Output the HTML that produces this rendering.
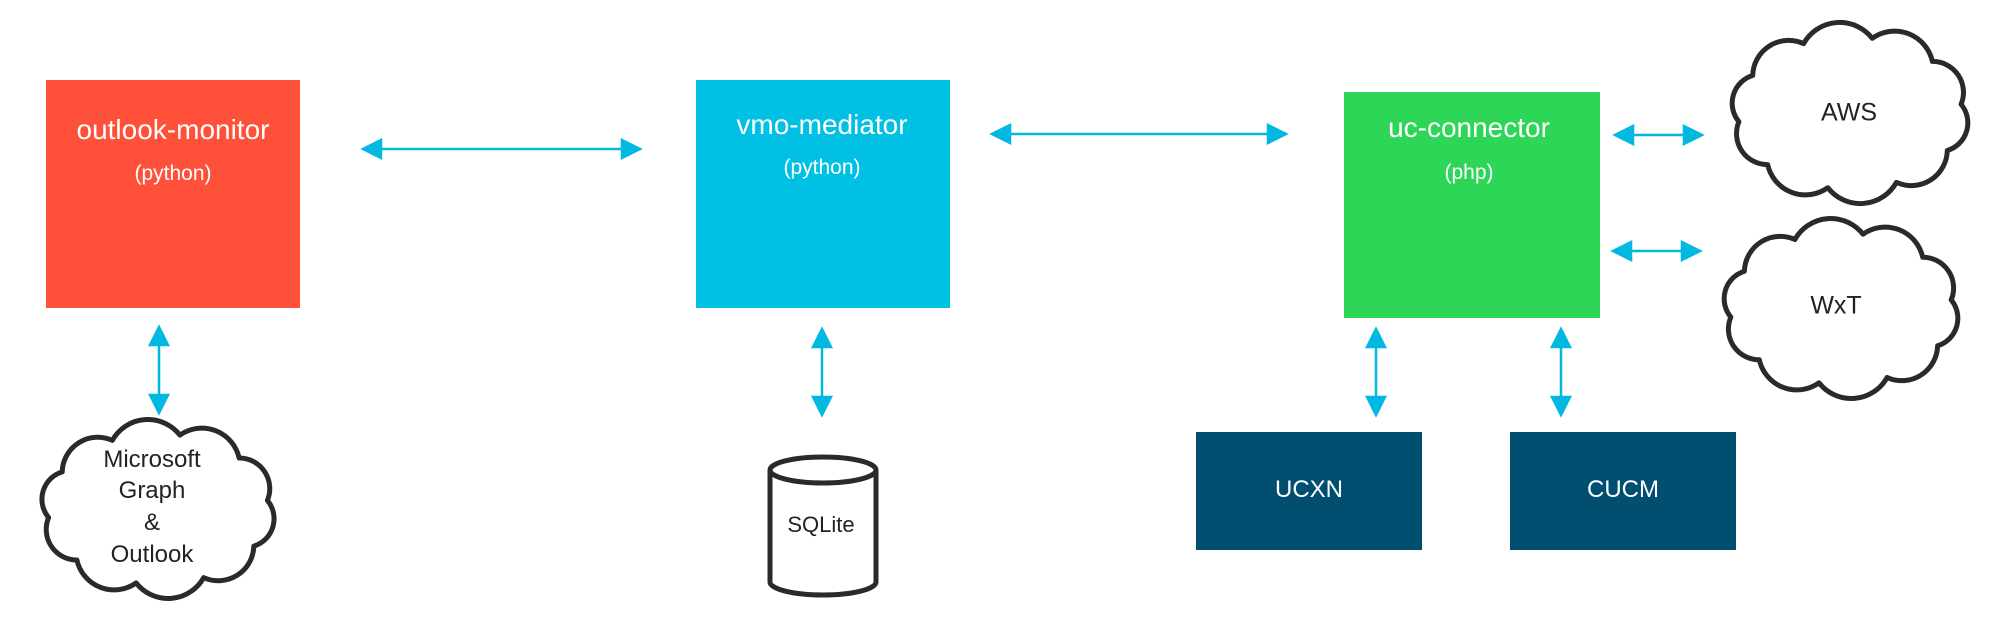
<!DOCTYPE html>
<html><head><meta charset="utf-8"><style>
html,body{margin:0;padding:0;background:#fff;}
body{width:2008px;height:620px;position:relative;overflow:hidden;font-family:"Liberation Sans",sans-serif;}
.b{position:absolute;color:#fff;}
.t{position:absolute;white-space:nowrap;transform:translate(-50%,-50%);}
svg{position:absolute;left:0;top:0;}
</style></head><body>
<div class="b" style="left:46px;top:80px;width:254px;height:228px;background:#ff503a"></div>
<div class="b" style="left:696px;top:80px;width:254px;height:228px;background:#00c0e3"></div>
<div class="b" style="left:1344px;top:92px;width:256px;height:226px;background:#2ed658"></div>
<div class="b" style="left:1196px;top:432px;width:226px;height:118px;background:#004f71"></div>
<div class="b" style="left:1510px;top:432px;width:226px;height:118px;background:#004f71"></div>

<svg width="2008" height="620" viewBox="0 0 2008 620" id="s">
<g stroke="#00b8e0" stroke-width="2.5" fill="#00b8e0">
<line x1="370" y1="149" x2="632" y2="149"/><polygon points="363,149 381,140 381,158"/><polygon points="640,149 622,140 622,158"/>
<line x1="999" y1="134" x2="1278" y2="134"/><polygon points="992,134 1010,125 1010,143"/><polygon points="1286,134 1268,125 1268,143"/>
<line x1="1622" y1="135" x2="1695" y2="135"/><polygon points="1615,135 1633,126 1633,144"/><polygon points="1702,135 1684,126 1684,144"/>
<line x1="1620" y1="251" x2="1693" y2="251"/><polygon points="1613,251 1631,242 1631,260"/><polygon points="1700,251 1682,242 1682,260"/>
<line x1="159" y1="334" x2="159" y2="406"/><polygon points="159,327 150,345 168,345"/><polygon points="159,413 150,395 168,395"/>
<line x1="822" y1="336" x2="822" y2="408"/><polygon points="822,329 813,347 831,347"/><polygon points="822,415 813,397 831,397"/>
<line x1="1376" y1="336" x2="1376" y2="408"/><polygon points="1376,329 1367,347 1385,347"/><polygon points="1376,415 1367,397 1385,397"/>
<line x1="1561" y1="336" x2="1561" y2="408"/><polygon points="1561,329 1552,347 1570,347"/><polygon points="1561,415 1552,397 1570,397"/>
</g>
<g fill="#fff" stroke="#2a2a2a" stroke-width="5">
<path d="M770,470 L770,582 A53,13 0 0 0 876,582 L876,470"/>
<ellipse cx="823" cy="470" rx="53" ry="13"/>
</g>
<g id="clouds" fill="#fff" stroke="#2a2a2a" stroke-width="5" stroke-linejoin="round"></g>
</svg>
<script>
function cloud(x0,y0,x1,y1,n){
 var cx=(x0+x1)/2,cy=(y0+y1)/2,rx=(x1-x0)/2*0.86,ry=(y1-y0)/2*0.82;
 var pts=[];for(var i=0;i<n;i++){var a=-Math.PI/2+i*2*Math.PI/n+0.2;pts.push([cx+rx*Math.cos(a),cy+ry*Math.sin(a)]);}
 var d="M"+pts[0][0].toFixed(1)+","+pts[0][1].toFixed(1);
 for(var i=0;i<n;i++){var p=pts[i],q=pts[(i+1)%n];var c=Math.hypot(q[0]-p[0],q[1]-p[1]);var r=c*0.6;
  d+=" A"+r.toFixed(1)+","+r.toFixed(1)+" 0 0 1 "+q[0].toFixed(1)+","+q[1].toFixed(1);}
 var el=document.createElementNS("http://www.w3.org/2000/svg","path");el.setAttribute("d",d+"Z");
 document.getElementById("clouds").appendChild(el);
}
cloud(30,417,286,601,10);
cloud(1720,20,1980,206,10);
cloud(1712,216,1970,401,10);
</script>

<div class="t" style="left:173px;top:130px;font-size:28px;color:#fff">outlook-monitor</div>
<div class="t" style="left:173px;top:174px;font-size:21px;color:#fff">(python)</div>
<div class="t" style="left:822px;top:125px;font-size:28px;color:#fff">vmo-mediator</div>
<div class="t" style="left:822px;top:168px;font-size:21px;color:#fff">(python)</div>
<div class="t" style="left:1469px;top:128px;font-size:28px;color:#fff">uc-connector</div>
<div class="t" style="left:1469px;top:173px;font-size:21px;color:#fff">(php)</div>
<div class="t" style="left:1309px;top:490px;font-size:24px;color:#fff">UCXN</div>
<div class="t" style="left:1623px;top:490px;font-size:24px;color:#fff">CUCM</div>
<div class="t" style="left:152px;top:460px;font-size:24px;color:#222">Microsoft</div>
<div class="t" style="left:152px;top:491px;font-size:24px;color:#222">Graph</div>
<div class="t" style="left:152px;top:523px;font-size:24px;color:#222">&amp;</div>
<div class="t" style="left:152px;top:555px;font-size:24px;color:#222">Outlook</div>
<div class="t" style="left:821px;top:525px;font-size:22px;color:#222">SQLite</div>
<div class="t" style="left:1849px;top:113px;font-size:25px;color:#222">AWS</div>
<div class="t" style="left:1836px;top:306px;font-size:25px;color:#222">WxT</div>
</body></html>
